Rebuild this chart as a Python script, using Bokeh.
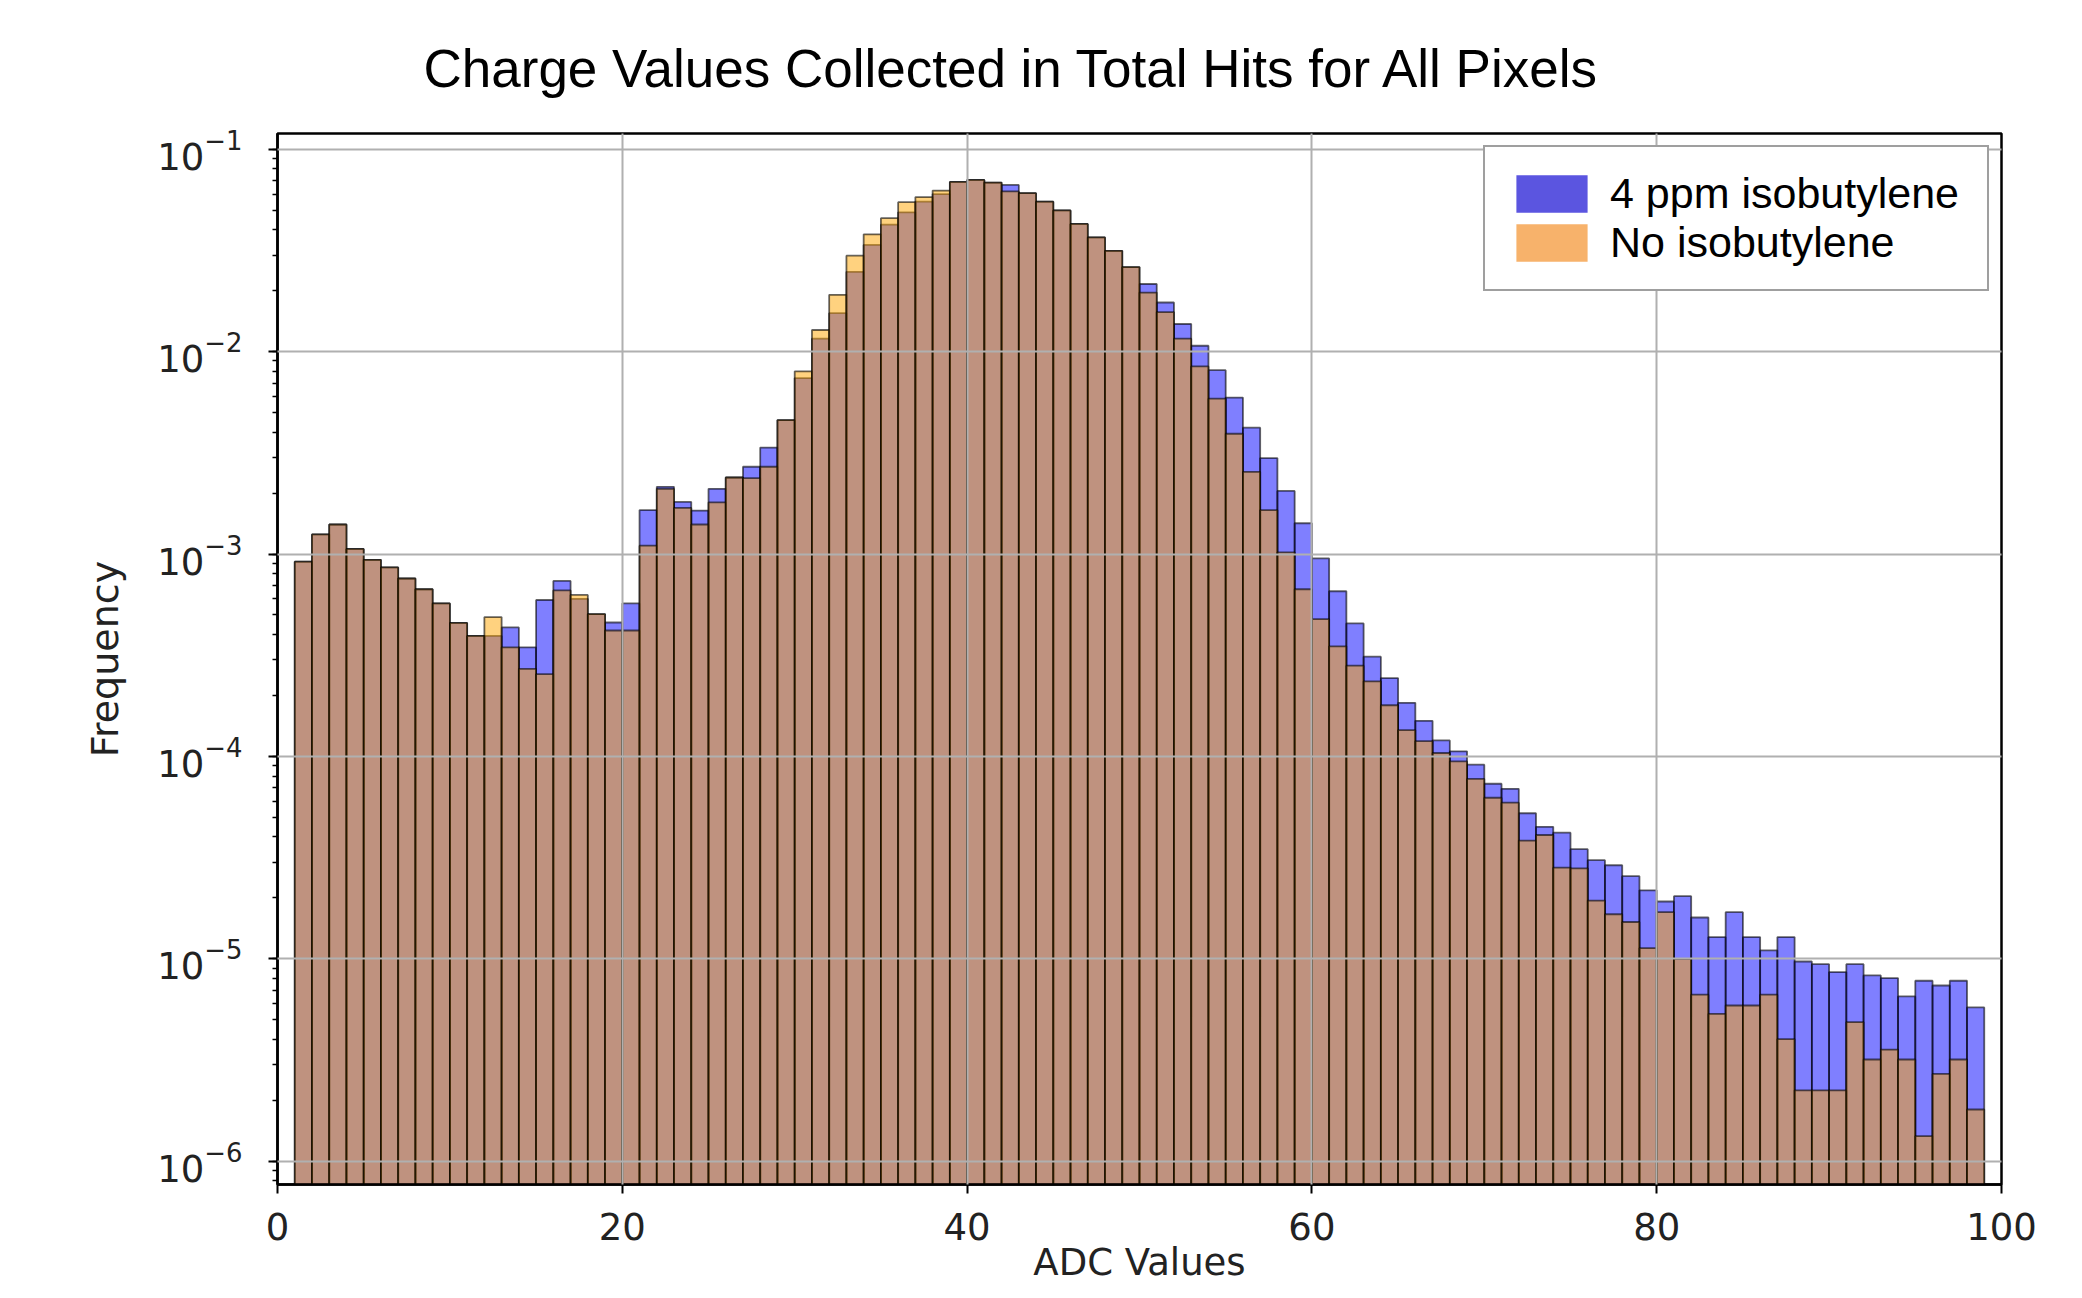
from bokeh.plotting import figure
from bokeh.models import ColumnDataSource, FixedTicker, Legend, LegendItem, Range1d
from bokeh.embed import file_html
from bokeh.resources import INLINE

# Histogram bin edges (ADC counts 1..99, unit-width bins)
bin_edges = list(range(1, 100))

# Normalised frequency per bin, 4 ppm isobutylene run
ppm4_freq = [
    9.17e-4, 1.25e-3, 1.40e-3, 1.06e-3, 9.37e-4, 8.59e-4, 7.57e-4, 6.70e-4, 5.70e-4, 4.57e-4,
    3.94e-4, 3.94e-4, 4.34e-4, 3.46e-4, 5.93e-4, 7.37e-4, 6.01e-4, 5.05e-4, 4.59e-4, 5.70e-4,
    1.65e-3, 2.15e-3, 1.81e-3, 1.64e-3, 2.10e-3, 2.39e-3, 2.70e-3, 3.36e-3, 4.59e-3, 7.41e-3,
    1.16e-2, 1.55e-2, 2.48e-2, 3.37e-2, 4.24e-2, 4.88e-2, 5.51e-2, 6.01e-2, 6.90e-2, 7.06e-2,
    6.85e-2, 6.67e-2, 6.07e-2, 5.51e-2, 4.99e-2, 4.28e-2, 3.67e-2, 3.15e-2, 2.62e-2, 2.16e-2,
    1.75e-2, 1.37e-2, 1.07e-2, 8.10e-3, 5.93e-3, 4.21e-3, 2.98e-3, 2.05e-3, 1.42e-3, 9.52e-4,
    6.55e-4, 4.54e-4, 3.11e-4, 2.44e-4, 1.84e-4, 1.50e-4, 1.20e-4, 1.06e-4, 9.10e-5, 7.33e-5,
    6.92e-5, 5.24e-5, 4.49e-5, 4.20e-5, 3.48e-5, 3.07e-5, 2.90e-5, 2.56e-5, 2.18e-5, 1.92e-5,
    2.04e-5, 1.60e-5, 1.28e-5, 1.70e-5, 1.28e-5, 1.10e-5, 1.28e-5, 9.70e-6, 9.41e-6, 8.60e-6,
    9.41e-6, 8.28e-6, 8.03e-6, 6.52e-6, 7.79e-6, 7.38e-6, 7.79e-6, 5.75e-6,
]

# Normalised frequency per bin, run without isobutylene
none_freq = [
    9.17e-4, 1.25e-3, 1.40e-3, 1.06e-3, 9.37e-4, 8.59e-4, 7.57e-4, 6.70e-4, 5.70e-4, 4.57e-4,
    3.94e-4, 4.88e-4, 3.46e-4, 2.71e-4, 2.55e-4, 6.61e-4, 6.28e-4, 5.05e-4, 4.19e-4, 4.19e-4,
    1.10e-3, 2.10e-3, 1.69e-3, 1.40e-3, 1.80e-3, 2.39e-3, 2.37e-3, 2.70e-3, 4.59e-3, 8.00e-3,
    1.28e-2, 1.91e-2, 2.98e-2, 3.80e-2, 4.57e-2, 5.48e-2, 5.81e-2, 6.25e-2, 6.90e-2, 7.06e-2,
    6.85e-2, 6.19e-2, 6.07e-2, 5.51e-2, 4.99e-2, 4.28e-2, 3.67e-2, 3.15e-2, 2.62e-2, 1.96e-2,
    1.57e-2, 1.16e-2, 8.46e-3, 5.86e-3, 3.93e-3, 2.55e-3, 1.65e-3, 1.02e-3, 6.70e-4, 4.77e-4,
    3.50e-4, 2.81e-4, 2.35e-4, 1.79e-4, 1.35e-4, 1.19e-4, 1.04e-4, 9.45e-5, 7.74e-5, 6.25e-5,
    5.91e-5, 3.84e-5, 4.09e-5, 2.82e-5, 2.80e-5, 1.94e-5, 1.66e-5, 1.52e-5, 1.13e-5, 1.70e-5,
    1.00e-5, 6.65e-6, 5.35e-6, 5.88e-6, 5.88e-6, 6.65e-6, 4.01e-6, 2.24e-6, 2.24e-6, 2.24e-6,
    4.87e-6, 3.18e-6, 3.56e-6, 3.18e-6, 1.33e-6, 2.70e-6, 3.18e-6, 1.80e-6,
]

series_labels = ["4 ppm isobutylene", "No isobutylene"]
x_ticks = [0, 20, 40, 60, 80, 100]
x_title = "ADC Values"
y_title = "Frequency"

TICK_FONT = "DejaVu Sans"
TEXT_FONT = "Liberation Sans"

p = figure(
    width=2082, height=1298,
    output_backend="svg", toolbar_location=None,
    x_range=Range1d(0, 100), y_range=Range1d(7.67e-7, 0.1197),
    y_axis_type="log",
    min_border_left=277, min_border_right=81,
    min_border_top=133, min_border_bottom=114,
    background_fill_color="white", border_fill_color="white",
)

# Title, set off to the left of the plot centre
p.title.text = "Charge Values Collected in Total Hits for All Pixels"
p.title.text_font = TEXT_FONT
p.title.text_font_size = "53px"
p.title.text_font_style = "normal"
p.title.text_color = "black"
p.title.align = "left"
p.title.vertical_align = "top"
p.title.offset = 146
p.title.standoff = 68

# Histogram bars: floor sits below the visible log range
left = bin_edges[:-1]
right = bin_edges[1:]
floor = [1e-9] * len(left)

src_ppm4 = ColumnDataSource(dict(left=left, right=right, top=ppm4_freq, bottom=floor))
src_none = ColumnDataSource(dict(left=left, right=right, top=none_freq, bottom=floor))

p.quad(left="left", right="right", top="top", bottom="bottom", source=src_ppm4,
       fill_color="blue", fill_alpha=0.5, line_color="black", line_alpha=0.6, line_width=1.8)
p.quad(left="left", right="right", top="top", bottom="bottom", source=src_none,
       fill_color="orange", fill_alpha=0.5, line_color="black", line_alpha=0.6, line_width=1.8)

# Legend swatches: solid colour patches from hidden renderers
sw_ppm4 = p.quad(left="left", right="right", top="top", bottom="bottom", source=src_ppm4,
                 fill_color="#5b55e0", fill_alpha=1.0, line_color=None, visible=False)
sw_none = p.quad(left="left", right="right", top="top", bottom="bottom", source=src_none,
                 fill_color="#f7b26b", fill_alpha=1.0, line_color=None, visible=False)

legend = Legend(
    items=[LegendItem(label=series_labels[0], renderers=[sw_ppm4], index=0),
           LegendItem(label=series_labels[1], renderers=[sw_none], index=0)],
    location="top_right",
    margin=12, padding=22, spacing=0,
    glyph_width=89, glyph_height=47,
    label_standoff=14, label_width=355,
    label_text_font=TEXT_FONT, label_text_font_size="43px", label_text_color="black",
    border_line_color="#404040", border_line_width=2,
    background_fill_color="white", background_fill_alpha=1.0,
    inactive_fill_alpha=0.0,
)
p.add_layout(legend)

# Grid drawn over the bars
p.xgrid.ticker = FixedTicker(ticks=x_ticks)
p.grid.grid_line_color = "#b0b0b0"
p.grid.grid_line_width = 2
p.grid.level = "guide"

# Frame
p.outline_line_color = "black"
p.outline_line_width = 2.5
p.outline_line_alpha = 1.0

# Axes
p.xaxis.ticker = FixedTicker(ticks=x_ticks, minor_ticks=[])
for ax in (p.xaxis, p.yaxis):
    ax.axis_line_color = "black"
    ax.axis_line_width = 2.5
    ax.major_tick_line_color = "black"
    ax.major_tick_line_width = 2
    ax.major_tick_in = 0
    ax.major_tick_out = 9
    ax.minor_tick_in = 0
    ax.major_label_text_font = TICK_FONT
    ax.major_label_text_font_size = "37px"
    ax.major_label_text_color = "#222222"
    ax.axis_label_text_font = TICK_FONT
    ax.axis_label_text_font_style = "normal"
    ax.axis_label_text_color = "#222222"

p.yaxis.minor_tick_out = 5
p.yaxis.minor_tick_line_color = "black"
p.yaxis.minor_tick_line_width = 1.5

p.yaxis.axis_label = y_title
p.yaxis.axis_label_text_font_size = "38px"
p.yaxis.major_label_standoff = 26
p.yaxis.axis_label_standoff = 27

p.xaxis.axis_label = x_title
p.xaxis.axis_label_text_font_size = "37px"
p.xaxis.major_label_standoff = 19
p.xaxis.axis_label_standoff = -2

open("out.html", "w").write(file_html(p, INLINE))
